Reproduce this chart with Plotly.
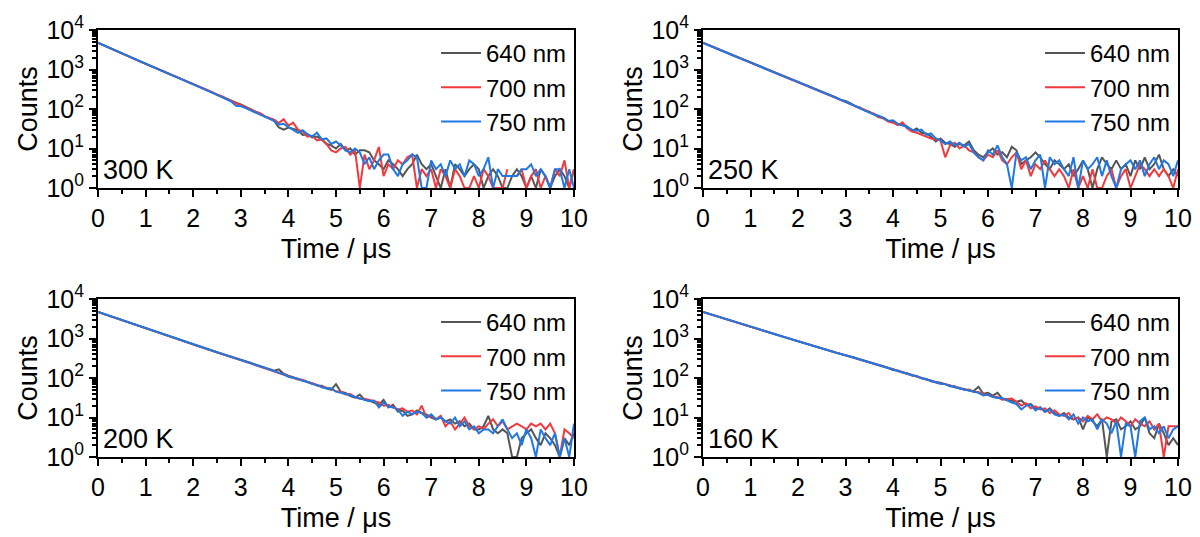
import plotly.graph_objects as go

# time grid (µs), 0.1 µs bins
time_us = [round(i * 0.1, 1) for i in range(101)]

# ---- 300 K ----
g300 = [4750, 4180, 3700, 3270, 2900, 2560, 2270, 2010, 1780, 1570,
        1400, 1240, 1100, 980, 870, 775, 690, 612, 545, 485,
        432, 382, 338, 300, 265, 233, 205, 182, 160, 145,
        130, 112, 98, 87, 76, 66, 60, 50, 34, 30,
        34, 31, 29, 22, 23, 19, 20, 17, 13, 12,
        10, 13, 9, 10, 7, 9, 9, 8, 5, 4,
        3, 5, 4, 3, 2, 3, 4, 7, 4, 3,
        4, 2, 1, 3, 1, 4, 3, 2, 3, 4,
        3, 1, 2, 3, 2, 1, 1, 2, 3, 2,
        1, 2, 1, 3, 2, 1, 2, 3, 2, 1,
        3]
r300 = [4700, 4150, 3690, 3280, 2890, 2570, 2250, 2010, 1790, 1570,
        1390, 1240, 1110, 970, 880, 770, 690, 615, 548, 480,
        436, 385, 340, 297, 268, 228, 210, 178, 163, 138,
        127, 108, 100, 84, 79, 65, 60, 54, 44, 55,
        38, 45, 30, 27, 20, 21, 16, 17, 13, 9,
        8, 10, 11, 7, 9, 1, 7, 3, 5, 11,
        2, 4, 3, 5, 4, 6, 7, 1, 3, 2,
        3, 1, 3, 2, 1, 3, 2, 1, 1, 2,
        1, 3, 2, 1, 1, 1, 3, None, 2, 3,
        1, 2, 3, 1, 2, 1, 3, 2, 5, 1,
        3]
b300 = [4720, 4170, 3670, 3250, 2870, 2540, 2240, 1990, 1760, 1550,
        1370, 1220, 1080, 960, 860, 765, 680, 605, 538, 478,
        425, 376, 332, 292, 258, 227, 200, 177, 155, 120,
        118, 105, 92, 84, 72, 64, 57, 50, 40, 42,
        35, 30, 25, 29, 23, 20, 25, 17, 18, 13,
        15, 12, 9, 8, 10, 8, 4, 6, 3, 5,
        7, 7, 3, 2, 4, 5, 7, 6, 1, 1,
        5, 3, 4, 2, 5, 3, 4, 2, 5, 4,
        2, 3, 6, 1, 3, 2, 2, 2, 2, 3,
        3, 4, 2, 3, 2, 1, 3, 3, 1, 3,
        1]

# ---- 250 K ----
g250 = [4750, 4210, 3760, 3350, 3000, 2670, 2390, 2130, 1900, 1700,
        1510, 1350, 1200, 1075, 960, 855, 762, 682, 608, 548,
        495, 440, 390, 350, 310, 276, 248, 220, 197, 170,
        160, 140, 118, 110, 93, 86, 73, 62, 60, 50,
        48, 40, 42, 36, 28, 32, 25, 24, 20, 15,
        18, 14, 13, 11, 13, 12, 15, 9, 7, 6,
        8, 10, 7, 8, 6, 11, 9, 4, 5, 6,
        8, 6, 4, 3, 5, 4, 3, 4, 2, 3,
        5, 3, 1, 3, 6, 4, 3, 5, 3, 4,
        2, 5, 3, 6, 3, 4, 7, 3, 2, 3,
        2]
r250 = [4700, 4190, 3740, 3330, 2980, 2650, 2370, 2115, 1890, 1680,
        1490, 1345, 1195, 1065, 950, 848, 758, 678, 600, 540,
        485, 432, 386, 344, 306, 272, 240, 220, 190, 172,
        150, 136, 120, 105, 96, 82, 76, 64, 57, 48,
        45, 39, 46, 32, 27, 25, 22, 20, 18, 17,
        16, 6, 12, 14, 10, 12, 9, 8, 6, 5,
        7, 6, 9, 5, 4, 6, 8, 3, 5, 2,
        4, 3, 5, 3, 2, 3, 2, 1, 3, 1,
        2, 1, 3, 1, 1, 2, 3, 1, 2, 3,
        1, 2, 4, 3, 2, 3, 2, 3, 2, 1,
        3]
b250 = [4720, 4180, 3730, 3320, 2970, 2640, 2360, 2100, 1880, 1670,
        1480, 1330, 1190, 1060, 945, 842, 752, 672, 598, 538,
        482, 430, 383, 340, 303, 270, 242, 215, 192, 170,
        153, 135, 119, 104, 92, 85, 72, 68, 60, 50,
        52, 42, 38, 35, 30, 28, 30, 22, 24, 18,
        16, 13, 15, 12, 14, 11, 13, 8, 6, 5,
        9, 7, 12, 6, 4, 1, 8, 5, 6, 3,
        5, 7, 1, 6, 4, 5, 3, 2, 6, 1,
        5, 3, 4, 6, 2, 5, 2, 1, 3, 4,
        5, 3, 5, 2, 4, 6, 3, 5, 4, 2,
        5]

# ---- 200 K ----
g200 = [4720, 4290, 3900, 3550, 3230, 2940, 2680, 2440, 2215, 2010,
        1810, 1650, 1505, 1375, 1255, 1145, 1045, 950, 865, 785,
        705, 645, 590, 540, 492, 450, 412, 380, 345, 320,
        298, 270, 245, 222, 203, 185, 170, 152, 165, 128,
        115, 105, 96, 88, 82, 73, 65, 64, 55, 50,
        70, 45, 42, 35, 32, 38, 28, 27, 24, 21,
        28, 18, 21, 14, 15, 11, 12, 15, 13, 12,
        10, 9, 10, 8, 9, 7, 8, 6, 7, 5,
        5, 6, 11, 5, 4, 5, 4, 1, 1, 3,
        4, 5, 3, 2, 4, 3, 2, 1, 3, 2,
        4]
r200 = [4700, 4270, 3880, 3530, 3210, 2920, 2660, 2420, 2200, 1990,
        1790, 1635, 1495, 1365, 1245, 1135, 1035, 940, 855, 775,
        695, 638, 582, 532, 488, 446, 408, 372, 340, 314,
        290, 265, 240, 218, 199, 181, 164, 148, 134, 122,
        110, 104, 92, 90, 78, 74, 66, 60, 57, 53,
        46, 44, 38, 39, 33, 30, 30, 28, 25, 24,
        20, 21, 18, 16, 17, 14, 15, 12, 20, 10,
        11, 9, 11, 6, 8, 5, 7, 10, 6, 5,
        6, 5, 7, 9, 6, 8, 5, 6, 7, 6,
        5, 7, 6, 7, 5, 7, 4, 1, 5, 4,
        3]
b200 = [4710, 4280, 3890, 3540, 3215, 2925, 2665, 2425, 2205, 1995,
        1795, 1640, 1498, 1368, 1248, 1138, 1038, 942, 858, 778,
        698, 640, 586, 536, 489, 447, 409, 374, 342, 315,
        292, 266, 242, 220, 200, 182, 165, 149, 136, 124,
        108, 102, 95, 84, 80, 70, 67, 58, 54, 55,
        45, 42, 40, 36, 33, 31, 28, 26, 27, 18,
        24, 19, 18, 16, 11, 14, 12, 14, 13, 10,
        12, 9, 10, 8, 7, 10, 6, 8, 5, 6,
        4, 5, 5, 4, 6, 9, 5, 3, 4, 2,
        5, 3, 1, 5, 3, 2, 4, 1, 3, 1,
        7]

# ---- 160 K ----
g160 = [4720, 4320, 3970, 3640, 3340, 3070, 2810, 2580, 2370, 2180,
        2010, 1840, 1690, 1550, 1425, 1305, 1200, 1100, 1010, 930,
        855, 785, 725, 665, 612, 562, 518, 476, 438, 408,
        382, 352, 325, 298, 275, 252, 232, 214, 196, 182,
        160, 155, 138, 132, 116, 112, 98, 95, 83, 80,
        76, 70, 62, 62, 54, 53, 48, 47, 60, 40,
        42, 36, 42, 30, 29, 27, 25, 27, 21, 22,
        17, 18, 14, 17, 13, 11, 13, 10, 9, 10,
        5, 10, 8, 6, 9, 1, 8, 9, 5, 6,
        8, 5, 6, 10, 4, 3, 7, 4, 2, 3,
        2]
r160 = [4700, 4305, 3955, 3625, 3325, 3055, 2795, 2565, 2355, 2165,
        1995, 1830, 1680, 1540, 1415, 1298, 1192, 1092, 1002, 922,
        848, 780, 718, 660, 606, 558, 512, 470, 433, 402,
        378, 348, 320, 294, 270, 248, 228, 210, 192, 178,
        170, 150, 142, 126, 121, 107, 102, 90, 87, 77,
        73, 68, 66, 58, 57, 50, 51, 44, 44, 38,
        37, 34, 33, 28, 29, 30, 25, 20, 23, 17,
        19, 16, 17, 13, 15, 12, 11, 13, 9, 10,
        8, 11, 9, 12, 8, 10, 9, 7, 10, 8,
        6, 9, 7, 6, 8, 5, 7, 1, 6, 6,
        6]
b160 = [4710, 4310, 3960, 3630, 3330, 3060, 2800, 2570, 2360, 2170,
        1998, 1833, 1683, 1543, 1418, 1300, 1195, 1095, 1004, 924,
        849, 781, 719, 661, 607, 559, 514, 472, 434, 404,
        379, 349, 321, 295, 271, 249, 229, 211, 194, 179,
        162, 154, 139, 128, 118, 111, 98, 93, 84, 78,
        72, 70, 63, 60, 55, 51, 48, 46, 42, 36,
        38, 33, 31, 31, 27, 24, 22, 16, 20, 21,
        15, 18, 14, 16, 12, 11, 12, 9, 12, 7,
        10, 8, 9, 5, 9, 7, 4, 8, 1, 7,
        6, 1, 8, 10, 5, 6, 4, 6, 3, 5,
        6]

series_names = ["640 nm", "700 nm", "750 nm"]
series_colors = ["#555555", "#f03a3e", "#1f78e4"]
temperature_labels = ["300 K", "250 K", "200 K", "160 K"]
panel_data = [(g300, r300, b300), (g250, r250, b250), (g200, r200, b200), (g160, r160, b160)]
ytick_vals = [1, 10, 100, 1000, 10000]
ytick_text = ["10<sup>0</sup>", "10<sup>1</sup>", "10<sup>2</sup>", "10<sup>3</sup>", "10<sup>4</sup>"]
yminor_vals = [m * d for d in (1, 10, 100, 1000) for m in range(2, 10)]

W, H = 1200, 537
# plot-area pixel boxes (left, right, top, bottom)
boxes = [(98, 574, 30, 188), (703, 1178, 30, 188), (98, 574, 299, 457), (703, 1178, 299, 457)]

FONT = "Liberation Sans, Arial, sans-serif"
TICK_SIZE, TITLE_SIZE, LEG_SIZE, ANN_SIZE = 25, 27, 24, 27
fig = go.Figure()
layout = dict(width=W, height=H, margin=dict(l=0, r=0, t=0, b=0),
              paper_bgcolor="white", plot_bgcolor="white",
              font=dict(family=FONT, size=TICK_SIZE, color="black"),
              annotations=[])

for i, (label, data) in enumerate(zip(temperature_labels, panel_data)):
    n = i + 1
    xa = "xaxis" if n == 1 else f"xaxis{n}"
    ya = "yaxis" if n == 1 else f"yaxis{n}"
    xref = "x" if n == 1 else f"x{n}"
    yref = "y" if n == 1 else f"y{n}"
    lg = "legend" if n == 1 else f"legend{n}"
    l, r, t, b = boxes[i]
    for name, color, vals in zip(series_names, series_colors, data):
        fig.add_trace(go.Scatter(x=time_us, y=vals, mode="lines", name=name,
                                 line=dict(color=color, width=2),
                                 xaxis=xref, yaxis=yref, legend=lg,
                                 connectgaps=False))
    layout[xa] = dict(domain=[l / W, r / W], anchor=yref, range=[0, 10],
                      tickmode="linear", tick0=0, dtick=1,
                      ticks="outside", ticklen=7, tickwidth=2, tickcolor="black",
                      minor=dict(ticks="outside", ticklen=4, tickwidth=2, dtick=0.5,
                                 tickcolor="black", showgrid=False),
                      showline=True, linewidth=2, linecolor="black", mirror=True,
                      showgrid=False, zeroline=False,
                      tickfont=dict(size=TICK_SIZE),
                      title=dict(text="Time / μs", font=dict(size=TITLE_SIZE), standoff=8),
                      automargin=False)
    layout[ya] = dict(domain=[1 - b / H, 1 - t / H], anchor=xref, type="log",
                      range=[0, 4], tickmode="array", tickvals=ytick_vals, ticktext=ytick_text,
                      ticks="outside", ticklen=7, tickwidth=2, tickcolor="black",
                      minor=dict(ticks="outside", ticklen=4, tickwidth=1.5,
                                 tickmode="array", tickvals=yminor_vals,
                                 tickcolor="black", showgrid=False),
                      showline=True, linewidth=2, linecolor="black", mirror=True,
                      showgrid=False, zeroline=False,
                      tickfont=dict(size=TICK_SIZE),
                      title=dict(text="Counts", font=dict(size=TITLE_SIZE), standoff=1),
                      automargin=False)
    layout[lg] = dict(x=(r - 2) / W, y=1 - (t + 1) / H, xanchor="right", yanchor="top",
                      bgcolor="rgba(0,0,0,0)", borderwidth=0,
                      font=dict(size=LEG_SIZE, family=FONT), itemwidth=40,
                      tracegroupgap=0)
    layout["annotations"].append(dict(text=label, x=(l + 3) / W, y=1 - (b - 1) / H,
                                      xref="paper", yref="paper", xanchor="left",
                                      yanchor="bottom", showarrow=False,
                                      font=dict(size=ANN_SIZE, family=FONT)))

fig.update_layout(**layout)
fig.write_html("out.html")
